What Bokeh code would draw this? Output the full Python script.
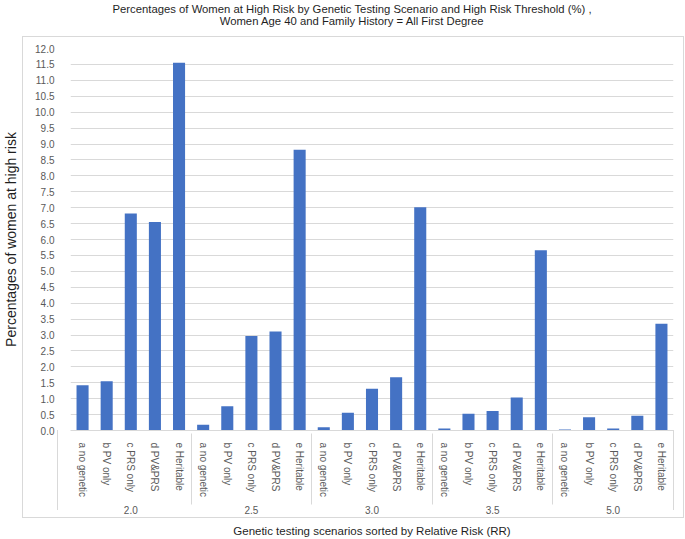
from bokeh.plotting import figure
from bokeh.models import (FactorRange, Range1d, FixedTicker, PrintfTickFormatter,
                          ColumnDataSource, Title, InlineStyleSheet)
from bokeh.embed import file_html
from bokeh.resources import INLINE

# ---- data ----
groups = ["2.0", "2.5", "3.0", "3.5", "5.0"]
scenarios = ["a no genetic", "b PV only", "c PRS only", "d PV&PRS", "e Heritable"]
rr_2_0 = [1.42, 1.55, 6.82, 6.55, 11.55]
rr_2_5 = [0.18, 0.76, 2.97, 3.11, 8.82]
rr_3_0 = [0.10, 0.56, 1.31, 1.67, 7.01]
rr_3_5 = [0.06, 0.53, 0.61, 1.04, 5.66]
rr_5_0 = [0.03, 0.42, 0.06, 0.46, 3.35]
y_ticks = [0.0, 0.5, 1.0, 1.5, 2.0, 2.5, 3.0, 3.5, 4.0, 4.5, 5.0, 5.5, 6.0,
           6.5, 7.0, 7.5, 8.0, 8.5, 9.0, 9.5, 10.0, 10.5, 11.0, 11.5, 12.0]

title_line1 = "Percentages of Women at High Risk by Genetic Testing Scenario and High Risk Threshold (%) ,"
title_line2 = "Women Age 40 and Family History = All First Degree"
x_title = "Genetic testing scenarios sorted by Relative Risk (RR)"
y_title = "Percentages of women at high risk"

FONT = "Liberation Sans"
BLUE = "#4472C4"
GRID = "#d9d9d9"
TXT = "#595959"
DARK = "#1f1f1f"

series = [rr_2_0, rr_2_5, rr_3_0, rr_3_5, rr_5_0]
factors = [(g, s) for g in groups for s in scenarios]
values = [v for vals in series for v in vals]
source = ColumnDataSource(dict(x=factors, top=values))

W, H = 685, 539
p = figure(x_range=FactorRange(*factors, group_padding=0, subgroup_padding=0,
                               factor_padding=0, range_padding=0),
           y_range=Range1d(0, 12.0),
           width=W, height=H, output_backend="svg", toolbar_location=None,
           min_border_left=57, min_border_right=12, min_border_top=48,
           min_border_bottom=109, title=None)

p.vbar(x="x", top="top", width=0.5, source=source,
       fill_color=BLUE, line_color=None)

# spacer between title and plot area (keeps the title near the top edge)
spacer = Title(text=" ", text_font_size="1px", standoff=18)
# two-line title, lines centred within the block
title = Title(text=title_line1 + "\n" + title_line2, align="left",
              text_font=FONT, text_font_size="11.3px", text_font_style="normal",
              text_color=DARK, text_line_height=1.02, standoff=0, offset=42)
if "text_align" in Title.properties():
    title.text_align = "center"
p.add_layout(spacer, "above")
p.add_layout(title, "above")

p.outline_line_color = None
p.background_fill_color = "white"
p.border_fill_color = "white"

# grid
p.xgrid.grid_line_color = None
p.ygrid.grid_line_color = GRID
p.ygrid.grid_line_width = 1

# y axis
p.yaxis.ticker = FixedTicker(ticks=y_ticks)
p.yaxis.formatter = PrintfTickFormatter(format="%.1f")
p.yaxis.axis_line_color = None
p.yaxis.major_tick_line_color = None
p.yaxis.minor_tick_line_color = None
p.yaxis.major_label_text_font = FONT
p.yaxis.major_label_text_font_size = "10px"
p.yaxis.major_label_text_color = TXT
p.yaxis.major_label_standoff = 10
p.yaxis.axis_label = y_title
p.yaxis.axis_label_text_font = FONT
p.yaxis.axis_label_text_font_size = "14px"
p.yaxis.axis_label_text_font_style = "normal"
p.yaxis.axis_label_text_color = DARK
p.yaxis.axis_label_standoff = 13

# x axis
xa = p.xaxis[0]
xa.axis_line_color = GRID
xa.major_tick_line_color = None
xa.minor_tick_line_color = None
xa.major_label_orientation = "vertical"
xa.group_label_orientation = "horizontal"
xa.major_label_text_font = FONT
xa.major_label_text_font_size = "10px"
xa.major_label_text_color = TXT
xa.major_label_standoff = 6
xa.group_text_font = FONT
xa.group_text_font_size = "10px"
xa.group_text_font_style = "normal"
xa.group_text_color = TXT
xa.separator_line_color = GRID
xa.separator_line_width = 1
xa.axis_label = x_title
xa.axis_label_text_font = FONT
xa.axis_label_text_font_size = "11.5px"
xa.axis_label_text_font_style = "normal"
xa.axis_label_text_color = DARK
xa.axis_label_standoff = 8

# light chart-area border and outer category separators (pure decoration)
p.stylesheets = [InlineStyleSheet(css="""
:host::after {
  content: ""; position: absolute; left: 22px; top: 36px; width: 662px; height: 482px;
  box-sizing: border-box; border: 1px solid #d9d9d9; pointer-events: none;
}
:host::before {
  content: ""; position: absolute; left: 57px; top: 430px; width: 617px; height: 80px;
  box-sizing: border-box; border-left: 1px solid #d9d9d9; border-right: 1px solid #d9d9d9;
  pointer-events: none; z-index: 2;
}
""")]

open("out.html", "w").write(file_html(p, INLINE))
